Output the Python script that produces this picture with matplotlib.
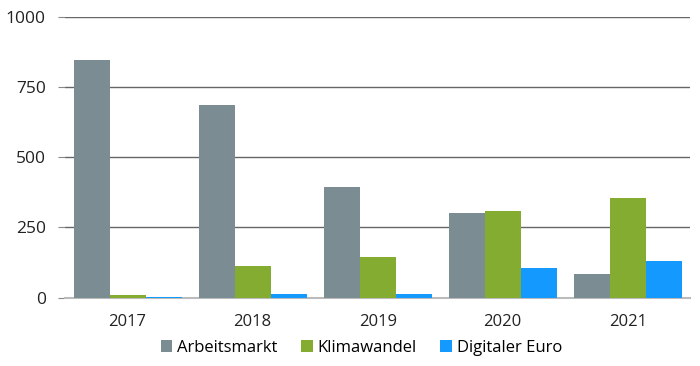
import matplotlib.pyplot as plt
import numpy as np

years = ['2017', '2018', '2019', '2020', '2021']
arbeitsmarkt = [848, 688, 395, 302, 84]
klimawandel = [8, 112, 143, 307, 355]
digitaler_euro = [3, 12, 12, 104, 130]

series = [('Arbeitsmarkt', arbeitsmarkt, '#7b8c93'),
          ('Klimawandel', klimawandel, '#84ac31'),
          ('Digitaler Euro', digitaler_euro, '#1499ff')]

plt.rcParams['font.family'] = ['Open Sans', 'DejaVu Sans']

fig = plt.figure(figsize=(7, 3.66), dpi=100)
ax = fig.add_axes([0.093, 0.187, 0.893, 0.766])

x = np.arange(len(years))
w = 0.288
for i, (name, vals, col) in enumerate(series):
    ax.bar(x + (i - 1) * w, vals, w, color=col, label=name, zorder=3)

ax.set_ylim(0, 1000)
ax.set_yticks([0, 250, 500, 750, 1000])
ax.set_xlim(-0.5, len(years) - 0.5)
ax.set_xticks(x)
ax.set_xticklabels(years)
ax.grid(axis='y', color='#666666', linewidth=1, zorder=0)
ax.set_axisbelow(True)
for s in ['top', 'right', 'left']:
    ax.spines[s].set_visible(False)
ax.spines['bottom'].set_color('#bbbbbb')
ax.spines['bottom'].set_linewidth(1.5)
ax.spines['bottom'].set_zorder(2)
ax.tick_params(axis='y', length=5, color='#888888', labelsize=12.5, labelcolor='#222222', pad=9)
ax.tick_params(axis='x', length=0, labelsize=12, labelcolor='#222222', pad=12)

ax.legend(loc='upper center', bbox_to_anchor=(0.474, -0.115), ncol=3, frameon=False,
          fontsize=12, handlelength=0.7, handleheight=0.7, handletextpad=0.3,
          columnspacing=1.4, borderaxespad=0.2)

fig.savefig('out.png', dpi=100)
